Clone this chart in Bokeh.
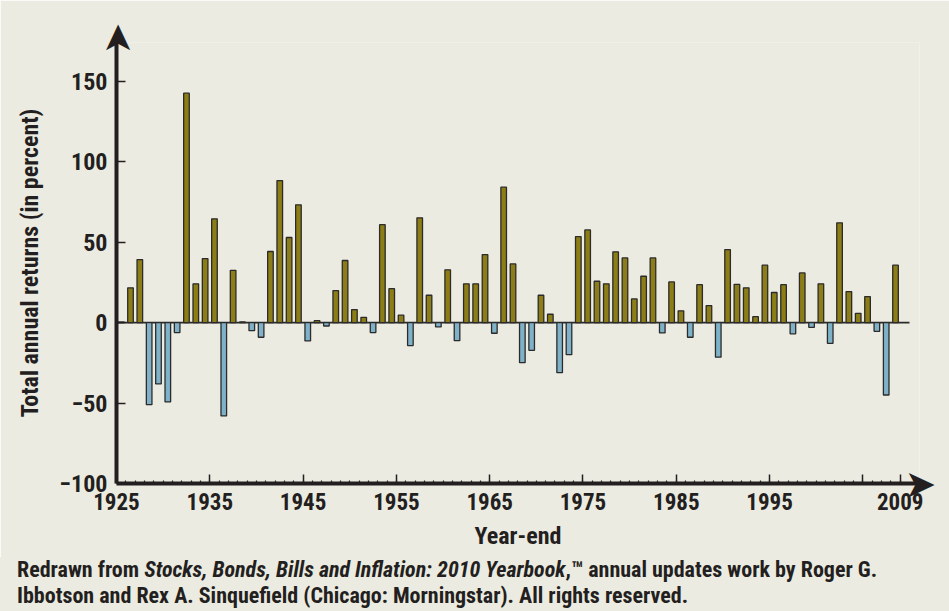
from bokeh.plotting import figure
from bokeh.models import (Range1d, FixedTicker, CustomJSTickFormatter, LinearAxis,
                          Div, ColumnDataSource)
from bokeh.layouts import column
from bokeh.embed import file_html
from bokeh.resources import INLINE

# ---- data ----
years = list(range(1926, 2010))
returns = [0.3, 21.6, 39.2, -51.0, -38.1, -49.3, -6.2, 142.6, 24.1, 39.8,
           64.5, -58.0, 32.5, 0.4, -5.0, -9.1, 44.2, 88.3, 52.9, 73.2,
           -11.4, 1.2, -2.1, 19.9, 38.6, 8.1, 3.3, -6.2, 60.9, 21.1,
           4.6, -14.3, 65.1, 17.0, -2.7, 32.8, -11.2, 24.1, 24.1, 42.3,
           -6.6, 84.2, 36.5, -24.9, -17.2, 17.0, 5.2, -31.1, -19.9, 53.5,
           57.6, 25.7, 24.1, 44.0, 40.2, 14.7, 28.8, 40.2, -6.4, 25.3,
           7.3, -9.1, 23.6, 10.6, -21.5, 45.4, 23.8, 21.6, 3.7, 35.7,
           18.7, 23.6, -7.0, 30.9, -2.9, 24.1, -12.9, 62.0, 19.3, 5.8,
           16.2, -5.4, -45.0, 35.7]
x_label_years = [1925, 1935, 1945, 1955, 1965, 1975, 1985, 1995, 2009]
x_decade_years = [1925, 1935, 1945, 1955, 1965, 1975, 1985, 1995, 2005]
y_ticks = [-100, -50, 0, 50, 100, 150]

# ---- styles ----
BG = "#ECEBE1"
POS = "#8C7D16"
NEG = "#7FB1C9"
EDGE = "#2B2B2B"
INK = "#231F20"
FONT = "'Roboto Condensed', Roboto, sans-serif"

X_START = years[0] - 0.5        # axis origin: end of 1925
X_END = 2011.57
Y_START = y_ticks[0]
Y_END = 174.1

src = ColumnDataSource(dict(
    year=years, ret=returns,
    color=[POS if v >= 0 else NEG for v in returns],
))

p = figure(width=949, height=557,
           x_range=Range1d(X_START, X_END), y_range=Range1d(Y_START, Y_END),
           output_backend="svg", toolbar_location=None,
           min_border_left=116, min_border_right=30, min_border_top=42, min_border_bottom=74,
           background_fill_color=BG, border_fill_color=BG, outline_line_color=None)
p.grid.visible = False

# zero line
p.segment(x0=[X_START], y0=[0], x1=[years[-1] + 1.5], y1=[0], line_color=EDGE, line_width=1.8)

p.vbar(x="year", top="ret", bottom=0, width=0.6, source=src,
       fill_color="color", line_color=EDGE, line_width=1.3)


def style_labels(ax, size):
    ax.major_label_text_font = FONT
    ax.major_label_text_font_style = "bold"
    ax.major_label_text_font_size = size
    ax.major_label_text_color = INK


def style_title(ax):
    ax.axis_label_text_font = FONT
    ax.axis_label_text_font_style = "bold"
    ax.axis_label_text_font_size = "24px"
    ax.axis_label_text_color = INK


# x axis (ticks at year-ends)
xa = p.xaxis[0]
xa.ticker = FixedTicker(ticks=sorted(set(y + 0.5 for y in x_decade_years + x_label_years)),
                        minor_ticks=[y + 0.5 for y in years])
xa.formatter = CustomJSTickFormatter(
    args=dict(labels=x_label_years),
    code="const y = Math.round(tick - 0.5); return labels.includes(y) ? String(y) : ''")
xa.axis_line_width = 4
xa.axis_line_color = INK
xa.major_tick_in = 9
xa.major_tick_out = 0
xa.minor_tick_in = 3
xa.minor_tick_out = 0
xa.major_tick_line_width = 1.5
xa.minor_tick_line_width = 1.2
xa.major_tick_line_color = INK
xa.minor_tick_line_color = INK
xa.major_label_standoff = 9
style_labels(xa, "23px")
xa.axis_label = "Year-end"
xa.axis_label_standoff = 9
style_title(xa)

# y axis
ya = p.yaxis[0]
ya.ticker = FixedTicker(ticks=y_ticks, minor_ticks=[])
ya.formatter = CustomJSTickFormatter(code="return tick < 0 ? '\\u2212' + Math.abs(tick) : String(tick)")
ya.axis_line_width = 4
ya.axis_line_color = INK
ya.major_tick_in = 9
ya.major_tick_out = 0
ya.minor_tick_in = 0
ya.minor_tick_out = 0
ya.major_tick_line_width = 1.5
ya.major_tick_line_color = INK
ya.major_label_standoff = 9
style_labels(ya, "24px")
ya.axis_label = "Total annual returns (in percent)"
ya.axis_label_standoff = 13
style_title(ya)

# arrow heads at the open ends of both axes
ARROW = "return '\\u27A4'"
top_head = LinearAxis(ticker=FixedTicker(ticks=[X_START], minor_ticks=[]),
                      formatter=CustomJSTickFormatter(code=ARROW),
                      axis_line_color=None, major_tick_line_color=None, minor_tick_line_color=None,
                      major_label_orientation="vertical", major_label_standoff=-18,
                      major_label_text_font="DejaVu Sans", major_label_text_font_size="38px",
                      major_label_text_color=INK)
p.add_layout(top_head, "above")
right_head = LinearAxis(ticker=FixedTicker(ticks=[Y_START], minor_ticks=[]),
                        formatter=CustomJSTickFormatter(code=ARROW),
                        axis_line_color=None, major_tick_line_color=None, minor_tick_line_color=None,
                        major_label_orientation="horizontal", major_label_standoff=-21,
                        major_label_text_font="DejaVu Sans", major_label_text_font_size="38px",
                        major_label_text_color=INK)
p.add_layout(right_head, "right")

footer = Div(
    text=("<div style=\"padding:0 0 0 17px\">Redrawn from <i>Stocks, Bonds, Bills and Inflation: "
          "2010 Yearbook</i>,&#8482; annual updates work by Roger G.<br>"
          "Ibbotson and Rex A. Sinquefield (Chicago: Morningstar). All rights reserved.</div>"),
    width=949, height=54, margin=0,
    styles={"font-family": FONT, "font-weight": "bold", "font-size": "22px",
            "line-height": "26px", "color": INK, "background-color": BG,
            "overflow": "hidden"})

layout = column(p, footer, spacing=0)

open("out.html", "w").write(file_html(layout, INLINE, "Small company stock returns"))
